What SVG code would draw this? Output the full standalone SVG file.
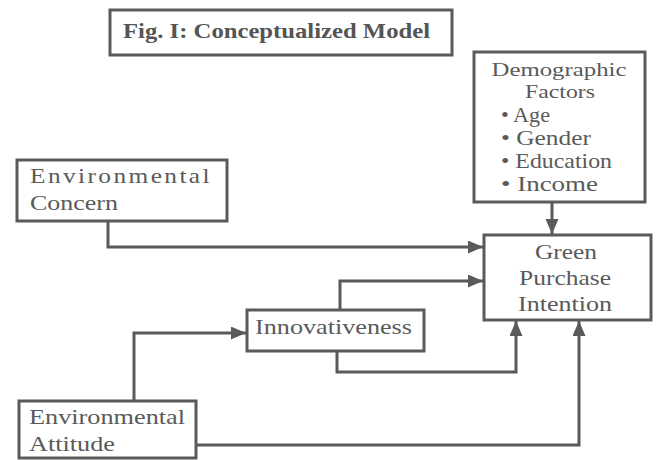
<svg xmlns="http://www.w3.org/2000/svg" width="658" height="460" viewBox="0 0 658 460">
  <style>
    .box { fill: #ffffff; stroke: #5a5a5a; stroke-width: 3; }
    .txt { font-family: "Liberation Serif", "DejaVu Serif", serif; font-size: 21px; fill: #5a5a5a; }
    .small { font-size: 19px; }
    .spaced { letter-spacing: 2px; }
    .title { font-family: "Liberation Serif", "DejaVu Serif", serif; font-size: 21px; font-weight: bold; fill: #555555; }
    .link { fill: none; stroke: #5a5a5a; stroke-width: 3; marker-end: url(#head); }
  </style>
  <defs>
    <marker id="head" markerUnits="userSpaceOnUse" markerWidth="16" markerHeight="14" refX="15" refY="6.5" orient="auto">
      <path d="M0,0 L15,6.5 L0,13 z" fill="#5a5a5a"/>
    </marker>
  </defs>
  <rect width="658" height="460" fill="#ffffff"/>

  <g id="title">
    <rect class="box" x="110" y="10" width="342" height="45"/>
    <text class="title" x="123" y="38" textLength="307" lengthAdjust="spacingAndGlyphs">Fig. I: Conceptualized Model</text>
  </g>

  <g id="connectors">
    <path class="link" d="M552,202 V234"/>
    <path class="link" d="M108,221 V247 H483"/>
    <path class="link" d="M340,310 V281 H483"/>
    <path class="link" d="M337,351 V372 H516 V321"/>
    <path class="link" d="M134,401 V333 H246"/>
    <path class="link" d="M196,445 H579 V321"/>
  </g>

  <g id="demographic-factors">
    <rect class="box" x="474" y="52" width="171" height="150"/>
    <text class="txt small" x="559" y="76" text-anchor="middle" textLength="135" lengthAdjust="spacingAndGlyphs">Demographic</text>
    <text class="txt small" x="560" y="98" text-anchor="middle" textLength="70" lengthAdjust="spacingAndGlyphs">Factors</text>
    <text class="txt" x="501" y="122" textLength="49" lengthAdjust="spacingAndGlyphs">• Age</text>
    <text class="txt" x="501" y="145" textLength="90" lengthAdjust="spacingAndGlyphs">• Gender</text>
    <text class="txt" x="501" y="168" textLength="111" lengthAdjust="spacingAndGlyphs">• Education</text>
    <text class="txt" x="501" y="191" textLength="97" lengthAdjust="spacingAndGlyphs">• Income</text>
  </g>

  <g id="environmental-concern">
    <rect class="box" x="17" y="160" width="210" height="61"/>
    <text class="txt spaced" x="30" y="183" textLength="182" lengthAdjust="spacingAndGlyphs">Environmental</text>
    <text class="txt" x="30" y="210" textLength="88" lengthAdjust="spacingAndGlyphs">Concern</text>
  </g>

  <g id="green-purchase-intention">
    <rect class="box" x="484" y="235" width="167" height="85"/>
    <text class="txt" x="566" y="259" text-anchor="middle" textLength="62" lengthAdjust="spacingAndGlyphs">Green</text>
    <text class="txt" x="565" y="285" text-anchor="middle" textLength="92" lengthAdjust="spacingAndGlyphs">Purchase</text>
    <text class="txt" x="565" y="311" text-anchor="middle" textLength="94" lengthAdjust="spacingAndGlyphs">Intention</text>
  </g>

  <g id="innovativeness">
    <rect class="box" x="247" y="310" width="177" height="41"/>
    <text class="txt" x="255" y="334" textLength="157" lengthAdjust="spacingAndGlyphs">Innovativeness</text>
  </g>

  <g id="environmental-attitude">
    <rect class="box" x="19" y="401" width="177" height="57"/>
    <text class="txt" x="29" y="424" textLength="156" lengthAdjust="spacingAndGlyphs">Environmental</text>
    <text class="txt" x="29" y="451" textLength="86" lengthAdjust="spacingAndGlyphs">Attitude</text>
  </g>
</svg>
